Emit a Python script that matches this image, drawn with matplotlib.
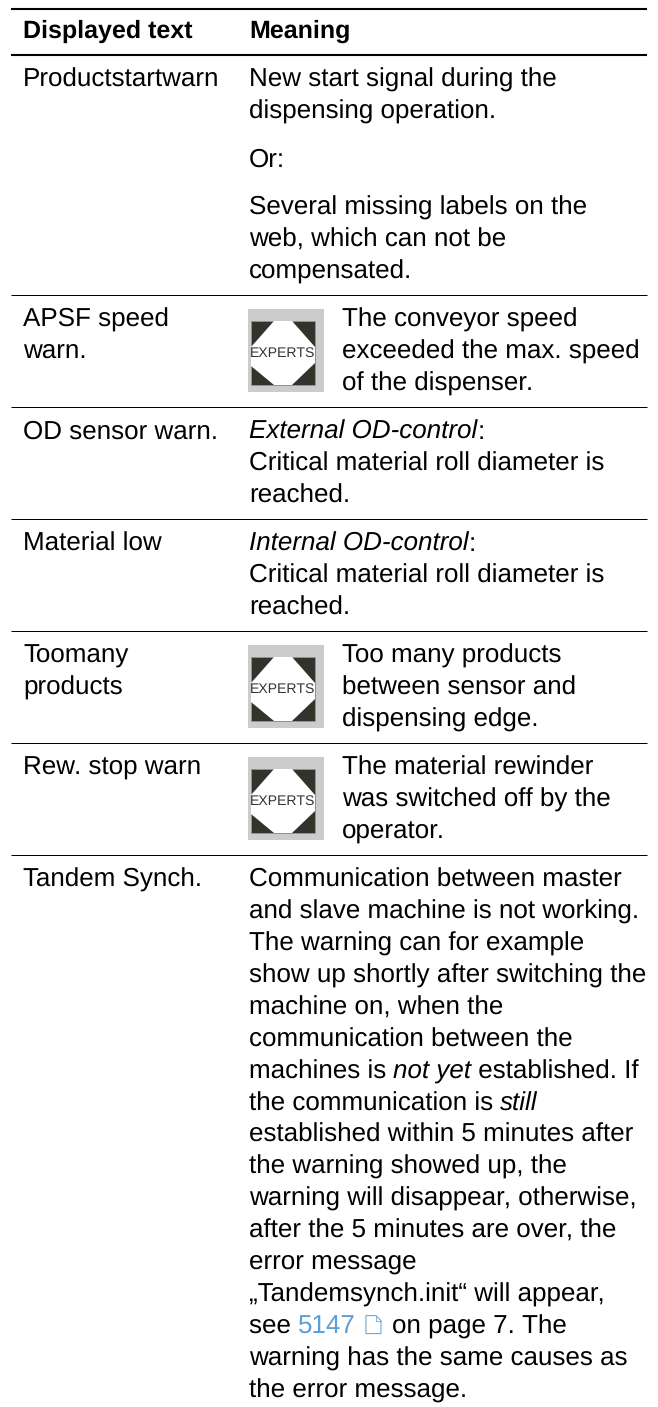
import matplotlib
matplotlib.use("Agg")
import matplotlib.pyplot as plt
from matplotlib.patches import Rectangle, Polygon

plt.rcParams['font.family'] = ['Liberation Sans', 'DejaVu Sans']
plt.rcParams['text.hinting'] = 'no_hinting'
plt.rcParams['text.hinting_factor'] = 1

W = 658
H = 1407
FS = 18.9
FS_TIGHT = 18.6
FS_HEAD = 18.2
LINE = 31.9
X1 = 23
X2 = 249
X3 = 342

headers = ["Displayed text", "Meaning"]
displayed = [
    ["Productstartwarn"],
    ["APSF speed", "warn."],
    ["OD sensor warn."],
    ["Material low"],
    ["Toomany", "products"],
    ["Rew. stop warn"],
    ["Tandem Synch."],
]
# each line is a list of runs: (text, style), None is a paragraph gap
meaning = [
    [[("New start signal during the", "n")], [("dispensing operation.", "n")], None,
     [("Or:", "n")], None,
     [("Several missing labels on the", "n")], [("web, which can not be", "n")], [("compensated.", "n")]],
    [[("The conveyor speed", "n")], [("exceeded the max. speed", "n")], [("of the dispenser.", "n")]],
    [[("External OD-control", "i"), (":", "n")], [("Critical material roll diameter is", "n")], [("reached.", "n")]],
    [[("Internal OD-control", "i"), (":", "n")], [("Critical material roll diameter is", "n")], [("reached.", "n")]],
    [[("Too many products", "n")], [("between sensor and", "n")], [("dispensing edge.", "n")]],
    [[("The material rewinder", "n")], [("was switched off by the", "n")], [("operator.", "n")]],
    [[("Communication between master", "n")],
     [("and slave machine is not working.", "n")],
     [("The warning can for example", "n")],
     [("show up shortly after switching the", "n")],
     [("machine on, when the", "n")],
     [("communication between the", "n")],
     [("machines is ", "n"), ("not yet", "i"), (" established. If", "n")],
     [("the communication is ", "n"), ("still", "i")],
     [("established within 5 minutes after", "n")],
     [("the warning showed up, the", "n")],
     [("warning will disappear, otherwise,", "n")],
     [("after the 5 minutes are over, the", "n")],
     [("error message", "n")],
     [("„Tandemsynch.init“ will appear,", "n")],
     [("see ", "n"), ("5147", "b"), ("", "d"), ("on page 7. The", "n")],
     [("warning has the same causes as", "n")],
     [("the error message.", "n")]],
]
# lines the reference sets with squeezed word spaces
tight_lines = ["and slave machine is not working.", "show up shortly after switching the", "machines is ",
               "exceeded the max. speed"]
has_icon = [False, True, False, False, True, True, False]
row_baselines = [87, 327, 439, 551, 663, 775, 887]
rule_y = [9, 55, 295, 407, 519, 631, 743, 855]

fig = plt.figure(figsize=(W / 100, H / 100), dpi=100)
ax = fig.add_axes([0, 0, 1, 1])
ax.set_xlim(0, W)
ax.set_ylim(H, 0)
ax.axis("off")


def draw_icon(x, y):
    ax.add_patch(Rectangle((x, y), 76, 83, fc="#cccccc", ec="none"))
    a = x + 3
    b = y + 12
    ax.add_patch(Rectangle((a, b), 64, 64, fc="#33332c", ec="#999999", lw=0.5))
    ax.add_patch(Polygon([(a + 23, b), (a + 41, b), (a + 64, b + 26), (a + 64, b + 42),
                          (a + 41, b + 64), (a + 23, b + 64), (a, b + 45), (a, b + 26)],
                         fc="white", ec="none"))
    ax.text(a + 32, b + 32, "EXPERTS", fontsize=10, ha="center", va="center", color="#333333")


def draw_doc(x, base):
    ax.add_patch(Polygon([(x, base - 18), (x + 10, base - 18), (x + 15, base - 13), (x + 15, base), (x, base)],
                         fc="white", ec="#6fa8d8", lw=0.8))
    ax.plot([x + 10, x + 10, x + 15], [base - 18, base - 13, base - 13], color="#6fa8d8", lw=0.6)


def draw_runs(x, base, runs):
    r = fig.canvas.get_renderer()
    fs = FS_TIGHT if runs[0][0] in tight_lines else FS
    for s, kind in runs:
        if kind == "d":
            draw_doc(x + 10, base)
            x += 36
            continue
        t = ax.text(x, base, s.replace(" ", "\u00a0"), fontsize=fs, va="baseline", ha="left",
                    style="italic" if kind == "i" else "normal",
                    color="#5b9fd6" if kind == "b" else "black")
        x += t.get_window_extent(r).width


for yy in rule_y[:2]:
    ax.plot([11, W - 11], [yy, yy], color="black", lw=1.5, solid_capstyle="butt")
for yy in rule_y[2:]:
    ax.plot([11, W - 11], [yy, yy], color="black", lw=0.72, solid_capstyle="butt")

ax.text(X1, 38, headers[0], fontsize=FS_HEAD, fontweight="bold", va="baseline")
ax.text(X2, 38, headers[1], fontsize=FS_HEAD, fontweight="bold", va="baseline")

for i in range(len(displayed)):
    base = row_baselines[i]
    for j, s in enumerate(displayed[i]):
        ax.text(X1, base + j * LINE, s, fontsize=FS, va="baseline")
    tx = X2
    if has_icon[i]:
        draw_icon(X2 - 1, base - 18)
        tx = X3
    y = base
    for runs in meaning[i]:
        if runs is None:
            y += 16
            continue
        draw_runs(tx, y, runs)
        y += LINE

fig.savefig("out.png", dpi=100)
